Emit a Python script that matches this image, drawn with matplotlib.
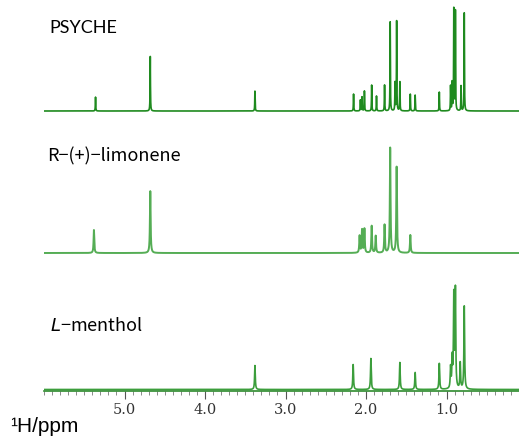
import numpy as np
import matplotlib.pyplot as plt

# peak lists: chemical shift (ppm) and peak height (px above each baseline)
psyche_ppm = [5.36, 4.68, 3.38, 2.155, 2.07, 2.05, 2.02, 1.93, 1.87, 1.77, 1.70,
              1.64, 1.62, 1.58, 1.45, 1.39, 1.09, 0.95, 0.93, 0.91, 0.89, 0.82, 0.78]
psyche_h = [14, 55, 20, 17, 11, 14, 20, 26, 15, 26, 89,
            28, 90, 29, 17, 16, 19, 25, 28, 102, 100, 25, 98]

limonene_ppm = [5.38, 4.68, 2.08, 2.05, 2.02, 1.93, 1.88, 1.77, 1.70, 1.62, 1.45]
limonene_h = [23, 62, 17, 23, 24, 27, 17, 28, 105, 86, 18]

menthol_ppm = [3.38, 2.16, 1.94, 1.58, 1.39, 1.09, 0.95, 0.93, 0.91, 0.89, 0.83, 0.78]
menthol_h = [24, 25, 31, 27, 17, 26, 21, 29, 92, 98, 26, 83]

xticks = [5.0, 4.0, 3.0, 2.0, 1.0]

x = np.linspace(6.0, 0.1, 12000)

def spectrum(ppm, h, w):
    y = np.zeros_like(x)
    for p, a in zip(ppm, h):
        y += a / (1 + ((x - p) / w) ** 2)
    return y

fig = plt.figure(figsize=(5.19, 4.39), dpi=100)
ax = fig.add_axes([44/519, 47/439, 1 - 44/519, 392/439])

ax.plot(x, spectrum(psyche_ppm, psyche_h, 0.0025) + 280, color='#1f8a1f', linewidth=1.2)
ax.plot(x, spectrum(limonene_ppm, limonene_h, 0.005) + 138, color='#55ad55', linewidth=1.4)
ax.plot(x, spectrum(menthol_ppm, menthol_h, 0.005) + 1.5, color='#3c9e3c', linewidth=1.2)

ax.set_xlim(6.0, 0.1)
ax.set_ylim(0, 392)
for s in ['top', 'left', 'right']:
    ax.spines[s].set_visible(False)
ax.spines['bottom'].set_color('#2e8b2e')
ax.spines['bottom'].set_linewidth(1.2)
ax.set_yticks([])
ax.set_xticks(xticks)
ax.set_xticklabels(['%.1f' % t for t in xticks], family='DejaVu Serif', fontsize=10.5, color='#333333')
ax.set_xticks(np.arange(0.1, 6.01, 0.1), minor=True)
ax.tick_params(axis='x', which='major', direction='out', length=6, width=0.8, color='#555555', pad=2)
ax.tick_params(axis='x', which='minor', direction='out', length=3, width=0.6, color='#777777')

fig.text(49/519, 1 - 28/439, 'PSYCHE', family='Lato', fontsize=13, va='center', ha='left')
fig.text(47/519, 1 - 156/439, 'R−(+)−limonene', family='Noto Sans CJK JP', fontsize=13, va='center', ha='left')
fig.text(50/519, 1 - 326/439, '$\\it{L}$−menthol', family='Noto Sans CJK JP', fontsize=13, va='center', ha='left')
fig.text(10/519, 1 - 427/439, '¹H/ppm', family='Liberation Sans', fontsize=15, va='center', ha='left')

fig.savefig('out.png', dpi=100)
